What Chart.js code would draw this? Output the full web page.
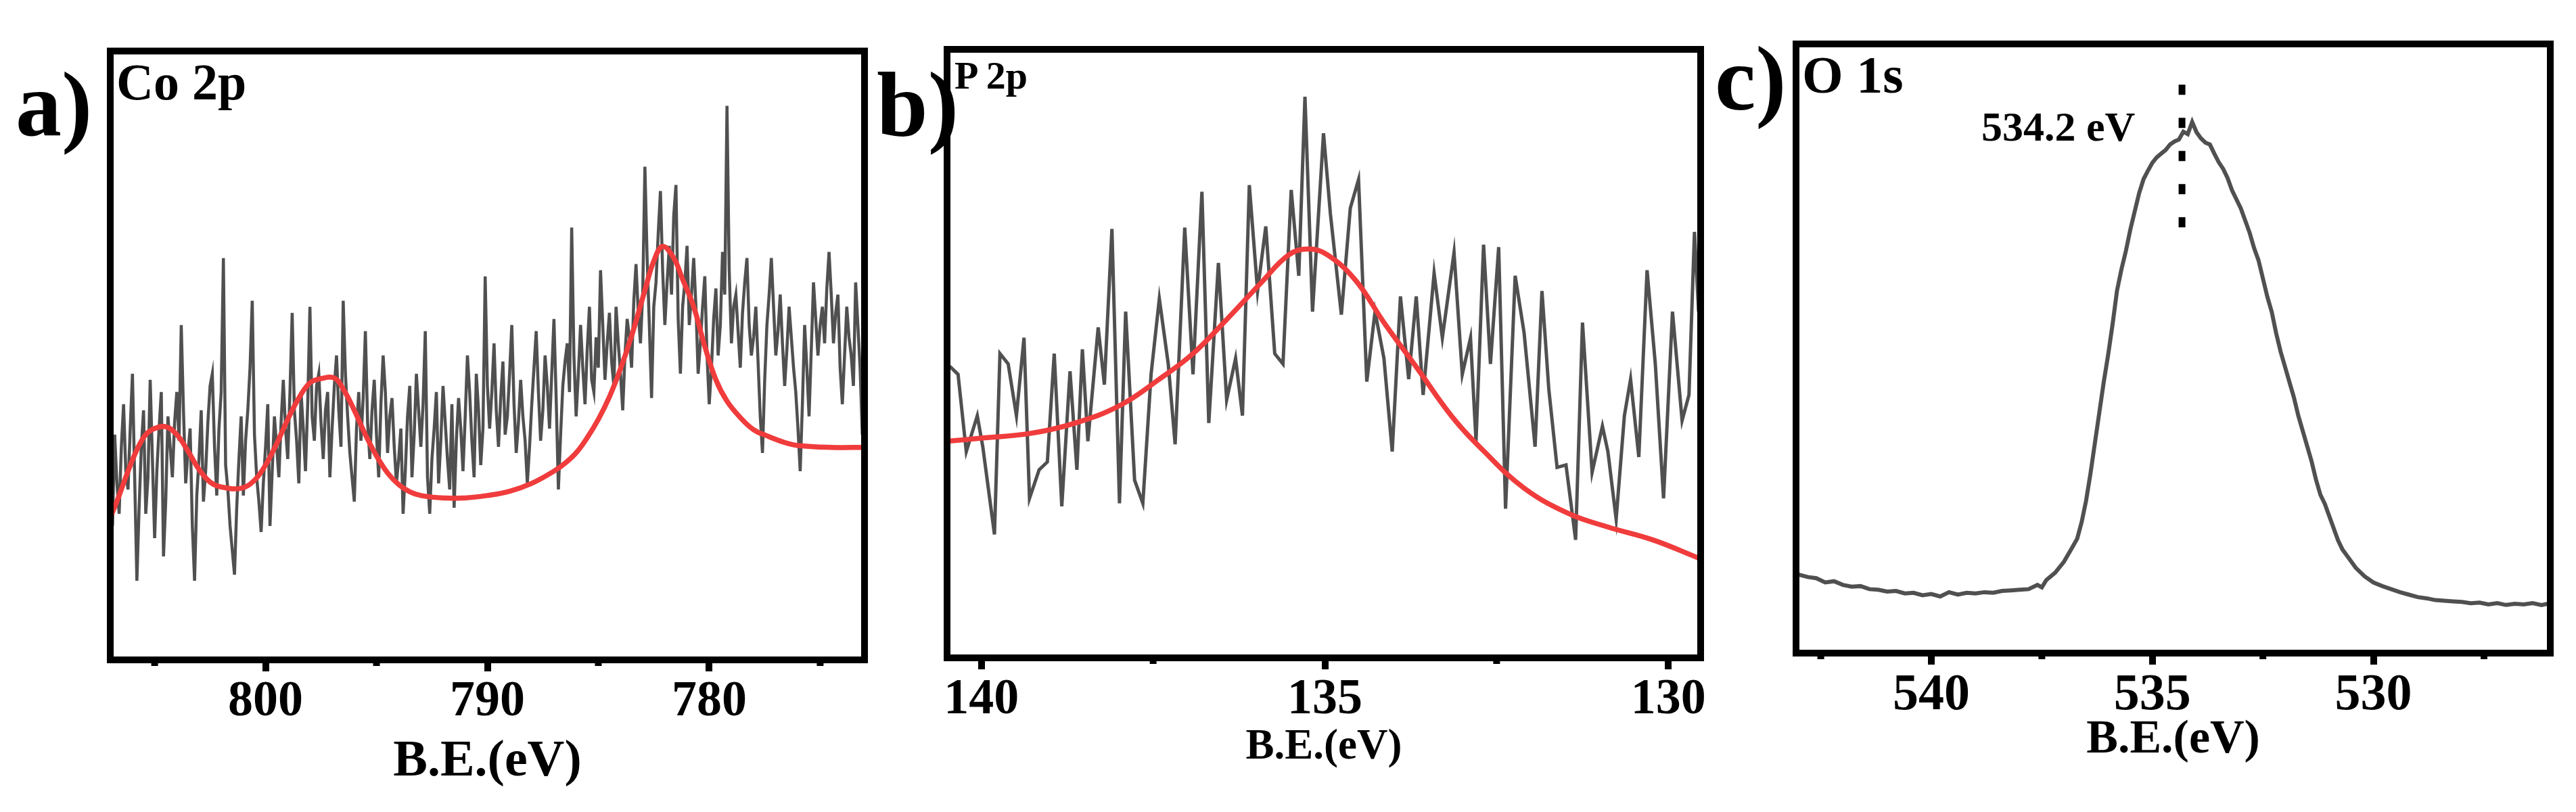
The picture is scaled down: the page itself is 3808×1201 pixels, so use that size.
<!DOCTYPE html>
<html>
<head>
<meta charset="utf-8">
<script src="https://cdn.jsdelivr.net/npm/chart.js"></script>
<style>
body { margin:0; background:#fff; width:3808px; height:1201px; overflow:hidden; position:relative; font-family:"Liberation Serif","Times New Roman",serif; }
canvas { position:absolute; left:0; top:0; }
.lbl { position:absolute; font-weight:bold; line-height:1; white-space:nowrap; color:#000; }
</style>
</head>
<body>
<canvas id="chart_co" width="3808" height="1201"></canvas>
<canvas id="chart_p" width="3808" height="1201"></canvas>
<canvas id="chart_o" width="3808" height="1201"></canvas>

<div class="lbl" style="left:23px;top:86px;font-size:136px">a)</div>
<div class="lbl" style="left:1296px;top:86px;font-size:136px">b)</div>
<div class="lbl" style="left:2535px;top:48px;font-size:136px">c)</div>
<div class="lbl" style="left:172px;top:83px;font-size:76px">Co 2p</div>
<div class="lbl" style="left:1411px;top:83px;font-size:58px">P 2p</div>
<div class="lbl" style="left:2664px;top:72px;font-size:78px">O 1s</div>
<div class="lbl" style="left:2929px;top:156px;font-size:62px">534.2 eV</div>

<script>
// Co 2p spectrum (arbitrary intensity, 0-100 of the frame height)
var co_energy = [
  807.0,806.9,806.8,806.7,806.6,806.5,806.4,806.3,806.2,806.1,
  806.0,805.9,805.8,805.7,805.6,805.5,805.4,805.3,805.2,805.1,
  805.0,804.9,804.8,804.7,804.6,804.5,804.4,804.3,804.2,804.1,
  804.0,803.9,803.8,803.7,803.6,803.5,803.4,803.3,803.2,803.1,
  803.0,802.9,802.8,802.7,802.6,802.5,802.4,802.3,802.2,802.1,
  802.0,801.9,801.8,801.7,801.6,801.5,801.4,801.3,801.2,801.1,
  801.0,800.9,800.8,800.7,800.6,800.5,800.4,800.3,800.2,800.1,
  800.0,799.9,799.8,799.7,799.6,799.5,799.4,799.3,799.2,799.1,
  799.0,798.9,798.8,798.7,798.6,798.5,798.4,798.3,798.2,798.1,
  798.0,797.9,797.8,797.7,797.6,797.5,797.4,797.3,797.2,797.1,
  797.0,796.9,796.8,796.7,796.6,796.5,796.4,796.3,796.2,796.1,
  796.0,795.9,795.8,795.7,795.6,795.5,795.4,795.3,795.2,795.1,
  795.0,794.9,794.8,794.7,794.6,794.5,794.4,794.3,794.2,794.1,
  794.0,793.9,793.8,793.7,793.6,793.5,793.4,793.3,793.2,793.1,
  793.0,792.9,792.8,792.7,792.6,792.5,792.4,792.3,792.2,792.1,
  792.0,791.9,791.8,791.7,791.6,791.5,791.4,791.3,791.2,791.1,
  791.0,790.9,790.8,790.7,790.6,790.5,790.4,790.3,790.2,790.1,
  790.0,789.9,789.8,789.7,789.6,789.5,789.4,789.3,789.2,789.1,
  789.0,788.9,788.8,788.7,788.6,788.5,788.4,788.3,788.2,788.1,
  788.0,787.9,787.8,787.7,787.6,787.5,787.4,787.3,787.2,787.1,
  787.0,786.9,786.8,786.7,786.6,786.5,786.4,786.3,786.2,786.1,
  786.0,785.9,785.8,785.7,785.6,785.5,785.4,785.3,785.2,785.1,
  785.0,784.9,784.8,784.7,784.6,784.5,784.4,784.3,784.2,784.1,
  784.0,783.9,783.8,783.7,783.6,783.5,783.4,783.3,783.2,783.1,
  783.0,782.9,782.8,782.7,782.6,782.5,782.4,782.3,782.2,782.1,
  782.0,781.9,781.8,781.7,781.6,781.5,781.4,781.3,781.2,781.1,
  781.0,780.9,780.8,780.7,780.6,780.5,780.4,780.3,780.2,780.1,
  780.0,779.9,779.8,779.7,779.6,779.5,779.4,779.3,779.2,779.1,
  779.0,778.9,778.8,778.7,778.6,778.5,778.4,778.3,778.2,778.1,
  778.0,777.9,777.8,777.7,777.6,777.5,777.4,777.3,777.2,777.1,
  777.0,776.9,776.8,776.7,776.6,776.5,776.4,776.3,776.2,776.1,
  776.0,775.9,775.8,775.7,775.6,775.5,775.4,775.3,775.2,775.1,
  775.0,774.9,774.8,774.7,774.6,774.5,774.4,774.3,774.2,774.1,
  774.0,773.9,773.8,773.7,773.6,773.5,773.4,773.3,773.2,773.1,
  773.0];
var co_counts = [
  30,22,37,29,24,35,42,31,28,38,
  47,30,13,25,35,41,24,30,46,33,
  20,31,38,44,17,26,40,35,30,39,
  44,36,55,41,29,34,38,22,13,27,
  33,41,26,31,39,45,47,35,27,38,
  44,66,32,28,22,18,14,25,33,40,
  27,36,41,48,59,37,30,26,21,29,
  35,42,22,31,40,35,30,39,46,38,
  33,44,57,41,36,29,44,38,31,42,
  58,40,36,45,47,39,33,41,44,30,
  38,45,50,41,35,59,47,40,34,30,
  26,38,44,36,43,54,39,33,41,46,
  37,30,42,50,44,34,40,43,35,29,
  33,38,24,31,40,45,30,37,47,41,
  35,42,54,30,24,33,38,44,29,36,
  45,39,33,28,42,25,36,43,38,31,
  40,50,44,36,30,47,41,32,38,63,
  45,38,44,52,41,35,43,49,37,40,
  47,55,42,34,39,46,40,36,29,35,
  42,48,54,44,36,41,50,45,38,47,
  56,43,28,37,45,49,52,44,71,50,
  40,47,55,48,42,51,58,46,44,53,
  48,64,55,46,52,57,49,45,58,52,
  47,41,50,56,53,48,59,65,57,52,
  60,81,66,55,43,58,62,70,77,64,
  55,62,68,60,73,78,56,47,58,62,
  68,55,60,66,58,47,52,58,63,50,
  42,48,56,61,50,55,67,60,91,64,
  52,58,60,54,48,57,62,66,55,50,
  53,58,49,40,34,46,55,60,66,58,
  50,54,60,52,45,51,58,53,48,44,
  38,31,42,55,48,40,51,62,56,50,
  55,58,52,61,67,60,52,57,60,48,
  42,50,58,53,50,45,62,55,48,37,
  58];
var co_fit_energy = [807.0,806.6,806.2,805.8,805.4,805.0,804.5,804.0,803.5,803.0,802.5,802.0,801.1,800.5,800.0,
  799.5,799.0,798.5,798.0,797.5,796.9,796.5,796.0,795.5,795.0,794.5,794.0,793.5,793.0,792.0,791.0,790.0,789.0,
  788.0,787.0,786.5,786.0,785.5,785.0,784.5,784.0,783.5,782.9,782.5,782.1,781.6,781.2,780.7,780.2,779.7,779.2,778.6,
  778.0,777.4,776.6,776.0,774.5,773.0];
var co_fit_counts = [23.3,27,31,34.5,37,38,38.3,37,34.3,31.3,29.2,28.4,28.2,29.5,32,
  35.5,39.5,43,45.5,46.2,46.3,44.5,41,37,33.5,30.7,28.8,27.6,27.0,26.6,26.6,27.0,27.7,
  29.0,31.0,32.3,34.0,36.5,39.5,43.2,47.8,53.2,60.7,65.5,67.9,66,62.5,58,51.5,46,42.5,39.8,
  37.8,36.8,35.7,35.2,34.9,34.9];
var co_range = [773, 807];
var co_ticks = [800, 790, 780];
var co_minor = [805, 795, 785, 775];

// P 2p spectrum
var p_energy = [140.46,140.34,140.22,140.06,139.98,139.81,139.73,139.61,139.49,139.38,
  139.30,139.16,139.04,138.94,138.83,138.71,138.61,138.53,138.45,138.30,
  138.21,138.10,137.99,137.90,137.77,137.65,137.53,137.41,137.28,137.18,
  137.04,136.92,136.79,136.69,136.55,136.43,136.30,136.20,136.10,135.98,
  135.86,135.73,135.61,135.49,135.38,135.29,135.18,135.02,134.92,134.76,
  134.63,134.51,134.39,134.27,134.14,134.02,133.90,133.78,133.67,133.57,
  133.41,133.29,133.12,133.00,132.88,132.80,132.69,132.59,132.47,132.37,
  132.23,132.10,131.94,131.84,131.74,131.62,131.49,131.35,131.25,131.11,
  130.96,130.88,130.76,130.64,130.55,130.43,130.31,130.19,130.07,129.94,
  129.80,129.70,129.62,129.56];
var p_counts = [47.9,46.6,33.9,39.8,34.7,20.3,50.0,48.3,39.8,52.6,
  26.2,30.9,32.2,50.0,24.9,47.1,30.9,50.7,35.6,54.3,
  44.9,70.5,25.4,56.9,29.2,25.4,46.6,59.0,48.3,35.1,
  70.7,46.6,76.6,38.6,64.9,42.4,49.2,39.8,77.7,60.3,
  70.9,50.0,48.3,76.9,62.8,92.2,56.9,86.2,73.0,56.4,
  73.9,78.6,45.4,56.9,49.2,33.9,59.4,45.8,59.4,43.2,
  63.2,52.6,66.6,46.6,52.6,35.6,67.9,48.3,67.5,24.5,
  62.8,53.4,34.7,60.3,44.1,31.3,31.7,19.4,55.1,30.5,
  38.1,33.9,22.8,39.8,45.8,33.0,63.7,48.3,26.2,56.9,
  39.0,43.2,70.0,56.9];
var p_fit_energy = [140.49,140.0,139.28,138.63,137.98,137.41,136.92,136.43,135.94,135.53,135.24,
  134.96,134.55,134.14,133.65,133.16,132.68,132.10,131.45,130.88,130.23,129.56];
var p_fit_counts = [35.6,36.1,36.9,38.6,41.5,45.8,50.0,55.6,61.5,66.2,67.2,
  66.2,62.0,55.1,47.5,39.8,33.9,27.9,23.7,21.5,19.4,16.4];
var p_range = [129.53, 140.5];
var p_ticks = [140, 135, 130];
var p_minor = [137.5, 132.5];

// O 1s spectrum
var o_energy = [543.0,542.8,542.6,542.4,542.2,542.0,541.8,541.6,541.4,541.2,
  541.0,540.8,540.6,540.4,540.2,540.0,539.8,539.6,539.4,539.2,
  539.0,538.8,538.6,538.4,538.2,538.0,537.8,537.6,537.5,537.4,
  537.2,537.0,536.8,536.7,536.6,536.5,536.4,536.3,536.2,536.1,
  536.0,535.9,535.8,535.7,535.6,535.5,535.4,535.3,535.2,535.1,
  535.0,534.9,534.8,534.7,534.6,534.5,534.4,534.3,534.2,534.1,
  534.0,533.9,533.8,533.7,533.6,533.5,533.4,533.3,533.2,533.1,
  533.0,532.9,532.8,532.7,532.6,532.5,532.4,532.3,532.2,532.1,
  532.0,531.9,531.8,531.7,531.6,531.5,531.4,531.3,531.2,531.1,
  531.0,530.9,530.8,530.7,530.6,530.5,530.4,530.2,530.0,529.8,
  529.6,529.4,529.2,529.0,528.8,528.6,528.4,528.2,528.0,527.8,
  527.6,527.4,527.2,527.0,526.8,526.6,526.4,526.2,526.0];
var o_counts = [12.9,12.5,12.3,11.6,11.8,11.2,10.9,11.0,10.5,10.4,
  10.1,10.2,9.8,9.9,9.5,9.7,9.3,10.0,9.6,9.9,
  9.8,10.0,9.9,10.2,10.3,10.4,10.5,11.2,10.8,12.0,
  13.2,15.0,17.5,18.8,21.5,25.0,29.5,34.5,39.5,44.5,
  49.0,54.0,59.5,63.0,66.0,69.5,72.5,75.5,77.8,79.2,
  80.5,81.4,82.0,82.6,83.5,84.0,84.3,85.6,85.2,87.2,
  85.5,84.5,83.8,83.5,82.0,80.6,79.5,78.0,76.0,74.5,
  73.0,71.0,69.0,66.5,64.5,61.5,58.5,56.0,52.5,49.5,
  47.0,44.5,42.0,39.0,36.5,34.0,31.5,28.5,26.0,24.5,
  22.5,20.5,18.5,17.0,16.0,15.0,14.0,12.6,11.6,11.0,
  10.5,10.0,9.6,9.2,9.0,8.7,8.6,8.5,8.4,8.2,
  8.3,8.0,8.2,7.9,8.1,8.0,8.2,7.9,8.2];
var o_marker_energy = [534.33, 534.33];
var o_marker_counts = [93.3, 69.9];
var o_range = [526, 543.06];
var o_ticks = [540, 535, 530];
var o_minor = [542.5, 537.5, 532.5, 527.5];

var serif = '"Liberation Serif", "Times New Roman", serif';
var gray = '#505050';
var red = '#f03c3c';

function pairs(xs, ys) {
  return xs.map(function (x, i) { return {x: x, y: ys[i]}; });
}

var frame_plugin = {
  id: 'frame',
  afterDraw: function (chart, args, opts) {
    var a = chart.chartArea;
    var ctx = chart.ctx;
    var xs = chart.scales.x;
    ctx.save();
    ctx.strokeStyle = '#000';
    ctx.fillStyle = '#000';
    ctx.lineWidth = 10;
    ctx.lineJoin = 'miter';
    ctx.strokeRect(a.left, a.top, a.right - a.left, a.bottom - a.top);
    (opts.minor || []).forEach(function (v) {
      var px = xs.getPixelForValue(v);
      ctx.fillRect(px - 5, a.bottom + 5, 10, 4);
    });
    ctx.restore();
  }
};

function make_chart(id, box, range, ticks, minor, tickSize, titleSize, titlePad, datasets) {
  var ctx = document.getElementById(id).getContext('2d');
  return new Chart(ctx, {
    type: 'line',
    data: { datasets: datasets },
    options: {
      responsive: false,
      animation: false,
      devicePixelRatio: 1,
      layout: { padding: { left: box[0], right: 3808 - box[1], top: box[2], bottom: 0 } },
      elements: { point: { radius: 0 } },
      plugins: {
        legend: { display: false },
        tooltip: { enabled: false },
        frame: { minor: minor }
      },
      scales: {
        x: {
          type: 'linear',
          reverse: true,
          min: range[0],
          max: range[1],
          afterBuildTicks: function (s) { s.ticks = ticks.map(function (v) { return {value: v}; }); },
          afterFit: function (s) { s.height = 1201 - box[3]; },
          border: { display: false },
          grid: { drawOnChartArea: false, drawTicks: true, tickLength: 17, lineWidth: 10, color: '#000', tickColor: '#000' },
          ticks: { autoSkip: false, maxRotation: 0, padding: 1, color: '#000',
                   font: { family: serif, size: tickSize, weight: 'bold' } },
          title: { display: true, text: 'B.E.(eV)', color: '#000',
                   font: { family: serif, size: titleSize, weight: 'bold' },
                   padding: { top: 0, bottom: titlePad } }
        },
        y: { display: false, min: 0, max: 100 }
      }
    },
    plugins: [frame_plugin]
  });
}

make_chart('chart_co', [163, 1278, 75.5, 976], co_range, co_ticks, co_minor, 74, 76, 28, [
  { data: pairs(co_fit_energy, co_fit_counts), borderColor: red, borderWidth: 7.5, tension: 0.4, order: 1 },
  { data: pairs(co_energy, co_counts), borderColor: gray, borderWidth: 4.5, order: 2 }
]);

make_chart('chart_p', [1400, 2514, 73, 973], p_range, p_ticks, p_minor, 74, 63, 57, [
  { data: pairs(p_fit_energy, p_fit_counts), borderColor: red, borderWidth: 7.5, tension: 0.4, order: 1 },
  { data: pairs(p_energy, p_counts), borderColor: gray, borderWidth: 5, order: 2 }
]);

make_chart('chart_o', [2655, 3770, 65, 966], o_range, o_ticks, o_minor, 76, 70, 64, [
  { data: pairs(o_marker_energy, o_marker_counts), borderColor: '#000', borderWidth: 10, borderDash: [15, 34], borderCapStyle: 'butt', order: 1 },
  { data: pairs(o_energy, o_counts), borderColor: gray, borderWidth: 6, order: 2 }
]);
</script>
</body>
</html>
